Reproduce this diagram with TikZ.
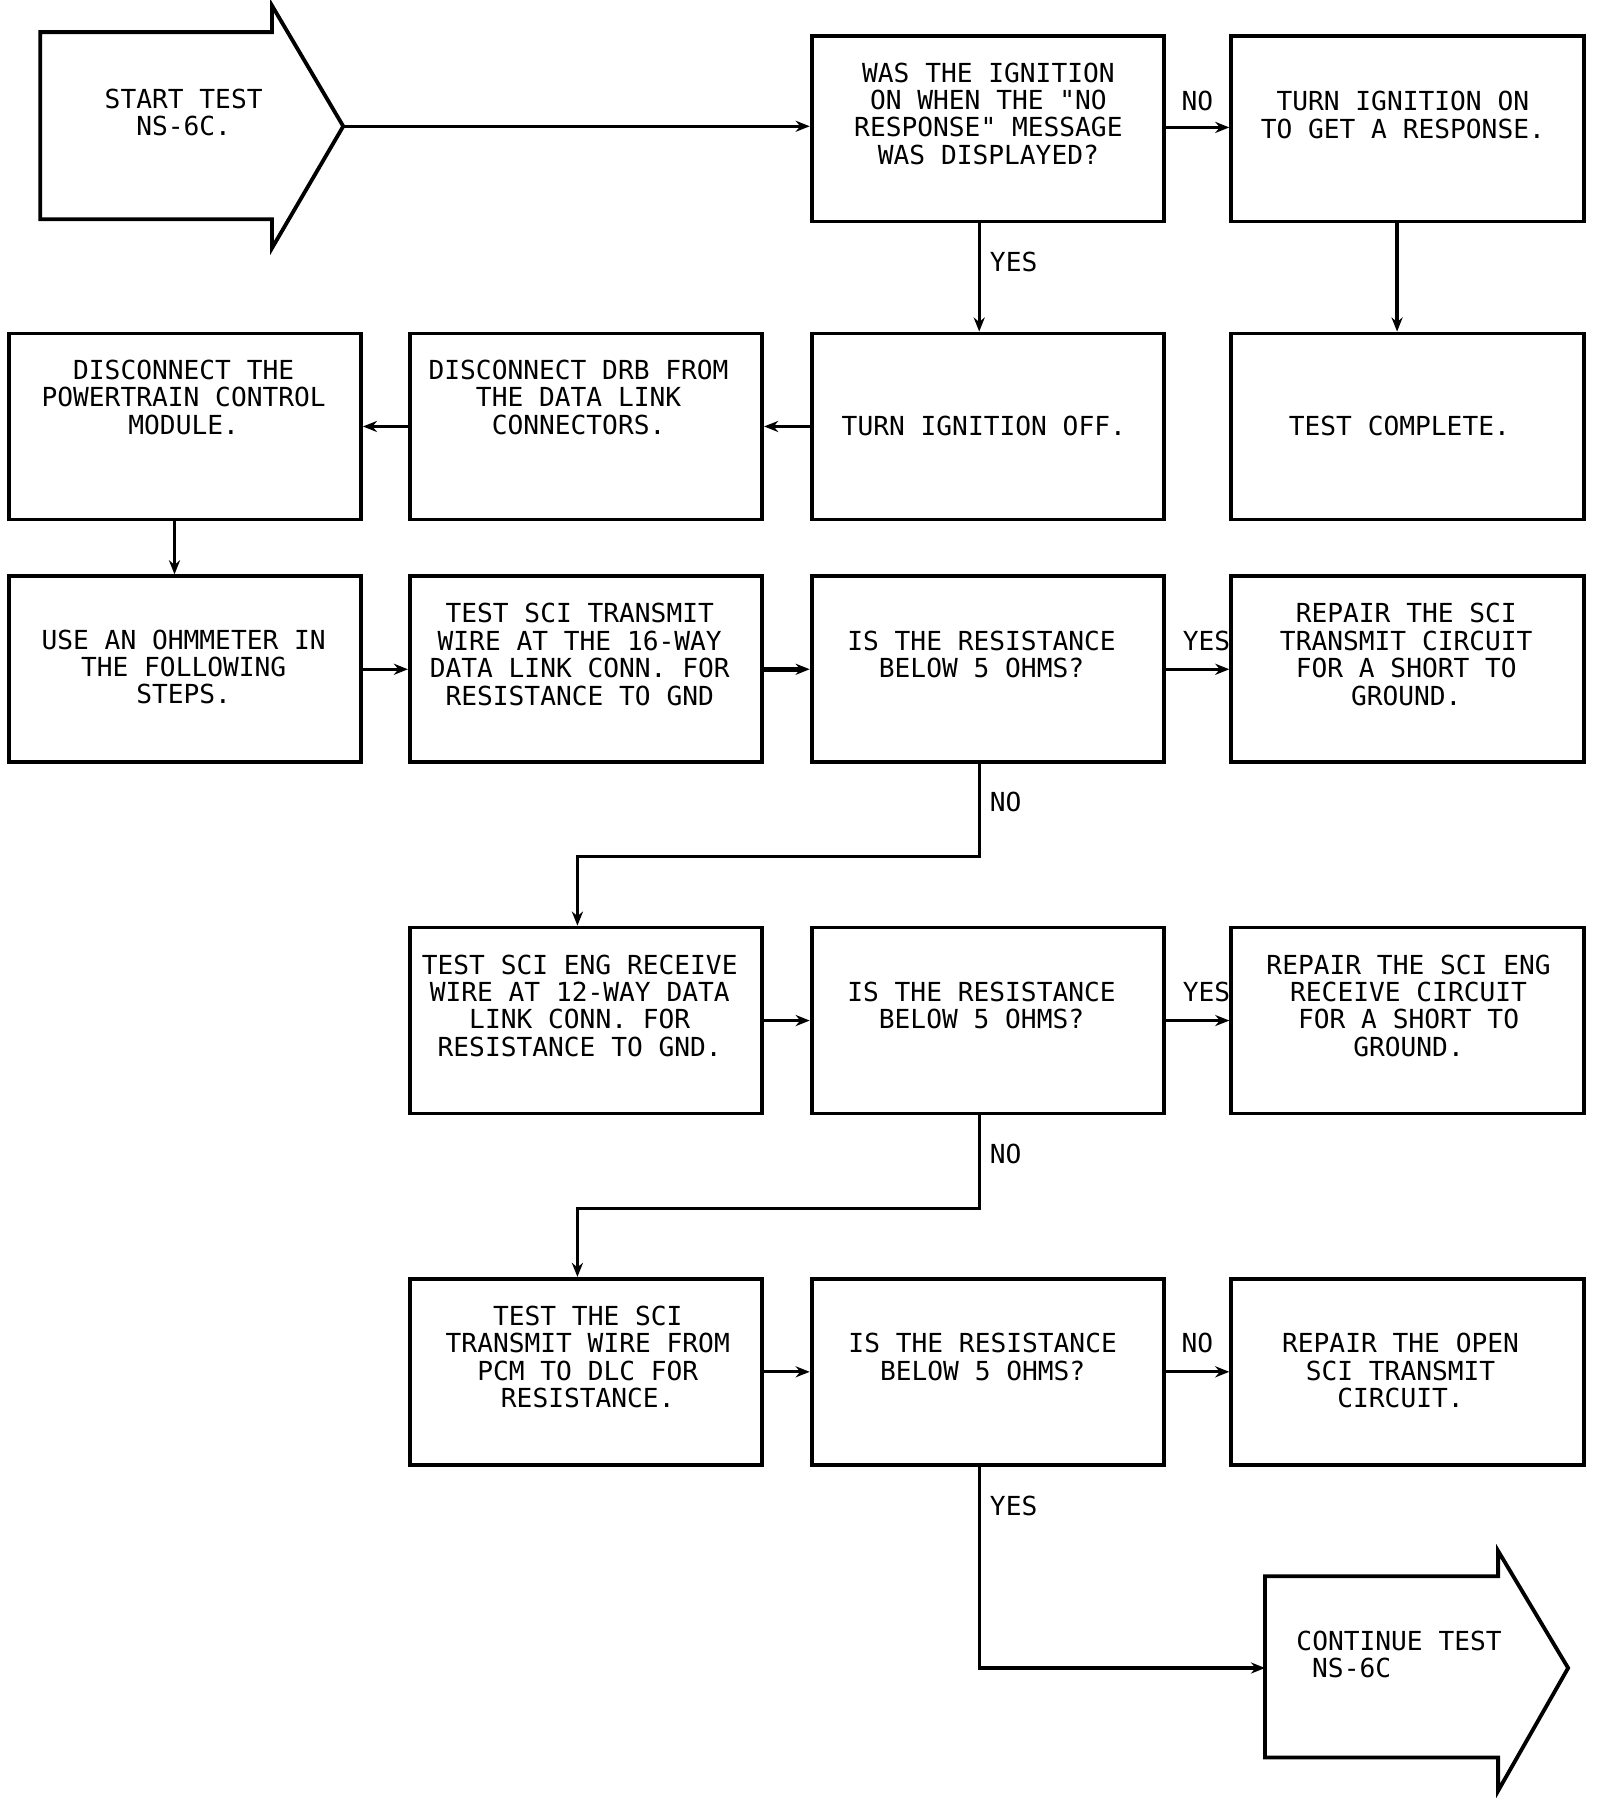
\documentclass[tikz,border=0pt]{standalone}
\usepackage{fontspec}
\setmonofont{DejaVu Sans Mono}
\usetikzlibrary{arrows.meta}
\tikzset{
  box/.style={draw, line width=1.9pt, minimum width=6.14cm, minimum height=3.24cm, inner sep=0pt},
  txt/.style={font=\ttfamily\fontsize{13}{13.6}\selectfont, align=center, inner sep=0pt},
  lbl/.style={font=\ttfamily\fontsize{13}{13.6}\selectfont, inner sep=0pt},
  conn/.style={line width=1.6pt, -{Stealth[length=7pt,width=5.5pt]}},
  bigarrow/.style={draw, line width=1.9pt, line join=miter}
}
\begin{document}
\begin{tikzpicture}[x=0.02cm, y=-0.02cm]
\useasboundingbox (0,0) rectangle (1394,1568);

% start arrow
\draw[bigarrow] (35,28) -- (237,28) -- (237,5) -- (299,110) -- (237,216) -- (237,191) -- (35,191) -- cycle;
\coordinate (starttip) at (299,110);
\node[txt] (startt) at (160,98) {START TEST\\NS-6C.};

% row 1
\node[box] (q1) at (860.5,112) {};
\node[txt] (q1t) at (861,99) {WAS THE IGNITION\\ON WHEN THE "NO\\RESPONSE" MESSAGE\\WAS DISPLAYED?};
\node[box] (on) at (1226,112) {};
\node[txt] (ont) at (1222,100) {TURN IGNITION ON\\TO GET A RESPONSE.};

% row 2
\node[box] (pcm) at (161,371.5) {};
\node[txt] (pcmt) at (160,346) {DISCONNECT THE\\POWERTRAIN CONTROL\\MODULE.};
\node[box] (drb) at (510.5,371.5) {};
\node[txt] (drbt) at (504,346) {DISCONNECT DRB FROM\\THE DATA LINK\\CONNECTORS.};
\node[box] (off) at (860.5,371.5) {};
\node[txt] (offt) at (857,371) {TURN IGNITION OFF.};
\node[box] (done) at (1226,371.5) {};
\node[txt] (donet) at (1219,371) {TEST COMPLETE.};

% row 3
\node[box] (ohm) at (161,583) {};
\node[txt] (ohmt) at (160,581) {USE AN OHMMETER IN\\THE FOLLOWING\\STEPS.};
\node[box] (tx) at (510.5,583) {};
\node[txt] (txt1) at (505,570) {TEST SCI TRANSMIT\\WIRE AT THE 16-WAY\\DATA LINK CONN. FOR\\RESISTANCE TO GND};
\node[box] (q2) at (860.5,583) {};
\node[txt] (q2t) at (855,570) {IS THE RESISTANCE\\BELOW 5 OHMS?};
\node[box] (rtx) at (1226,583) {};
\node[txt] (rtxt) at (1225,570) {REPAIR THE SCI\\TRANSMIT CIRCUIT\\FOR A SHORT TO\\GROUND.};

% row 4
\node[box] (eng) at (510.5,889) {};
\node[txt] (engt) at (505,876) {TEST SCI ENG RECEIVE\\WIRE AT 12-WAY DATA\\LINK CONN. FOR\\RESISTANCE TO GND.};
\node[box] (q3) at (860.5,889) {};
\node[txt] (q3t) at (855,876) {IS THE RESISTANCE\\BELOW 5 OHMS?};
\node[box] (reng) at (1226,889) {};
\node[txt] (rengt) at (1227,876) {REPAIR THE SCI ENG\\RECEIVE CIRCUIT\\FOR A SHORT TO\\GROUND.};

% row 5
\node[box] (wire) at (510.5,1195) {};
\node[txt] (wiret) at (512,1182) {TEST THE SCI\\TRANSMIT WIRE FROM\\PCM TO DLC FOR\\RESISTANCE.};
\node[box] (q4) at (860.5,1195) {};
\node[txt] (q4t) at (856,1182) {IS THE RESISTANCE\\BELOW 5 OHMS?};
\node[box] (ropen) at (1226,1195) {};
\node[txt] (ropent) at (1220,1194) {REPAIR THE OPEN\\SCI TRANSMIT\\CIRCUIT.};

% continue arrow
\draw[bigarrow] (1102,1373) -- (1305,1373) -- (1305,1351) -- (1366,1453) -- (1305,1560) -- (1305,1531) -- (1102,1531) -- cycle;
\coordinate (contin) at (1102,1453);
\node[txt, align=left, anchor=west] (contt) at (1129,1441) {CONTINUE TEST\\\hspace*{0.6em}NS-6C};

% connectors
\draw[conn] (starttip) -- (starttip -| q1.west);
\draw[conn] (q1.east |- 0,111) -- (on.west |- 0,111);
\draw[conn] (on.south -| 1217,0) -- (done.north -| 1217,0);
\draw[conn] (q1.south -| 853,0) -- (off.north -| 853,0);
\draw[conn] (off.west) -- (drb.east);
\draw[conn] (drb.west) -- (pcm.east);
\draw[conn] (pcm.south -| 152,0) -- (ohm.north -| 152,0);
\draw[conn] (ohm.east) -- (tx.west);
\draw[conn, line width=2.4pt] (tx.east) -- (q2.west);
\draw[conn] (q2.east) -- (rtx.west);
\draw[conn, line join=miter] (q2.south -| 853,0) -- (853,746) -- (503,746) -- (eng.north -| 503,0);
\draw[conn] (eng.east) -- (q3.west);
\draw[conn] (q3.east) -- (reng.west);
\draw[conn, line join=miter] (q3.south -| 853,0) -- (853,1053) -- (503,1053) -- (wire.north -| 503,0);
\draw[conn] (wire.east) -- (q4.west);
\draw[conn] (q4.east) -- (ropen.west);
\draw[conn, line join=miter] (q4.south -| 853,0) -- (853,1453) -- (contin);

% labels
\node[lbl] (l1) at (1043,88) {NO};
\node[lbl] (l2) at (883,228) {YES};
\node[lbl] (l3) at (1051,558) {YES};
\node[lbl] (l4) at (876,699) {NO};
\node[lbl] (l5) at (1051,864) {YES};
\node[lbl] (l6) at (876,1005) {NO};
\node[lbl] (l7) at (1043,1170) {NO};
\node[lbl] (l8) at (883,1312) {YES};
\end{tikzpicture}
\end{document}
